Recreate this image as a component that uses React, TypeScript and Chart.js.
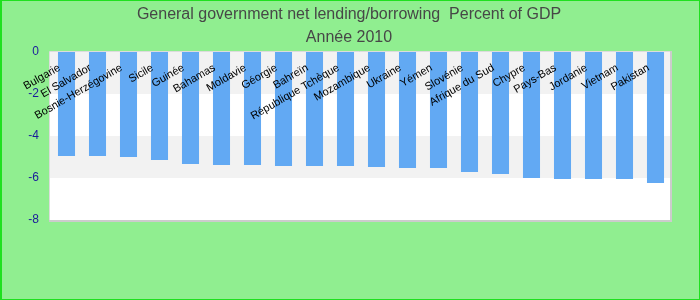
import { useEffect, useRef } from "react";
import { Chart, registerables } from "chart.js";

Chart.register(...registerables);

// General government net lending/borrowing, percent of GDP, 2010
const countries = [
  "Bulgarie",
  "El Salvador",
  "Bosnie-Herzégovine",
  "Sicile",
  "Guinée",
  "Bahamas",
  "Moldavie",
  "Géorgie",
  "Bahreïn",
  "République Tchèque",
  "Mozambique",
  "Ukraine",
  "Yémen",
  "Slovénie",
  "Afrique du Sud",
  "Chypre",
  "Pays-Bas",
  "Jordanie",
  "Vietnam",
  "Pakistan",
];

const netLending = [
  -4.95, -4.95, -5.0, -5.14, -5.33, -5.38, -5.38, -5.43, -5.43, -5.43,
  -5.48, -5.52, -5.52, -5.71, -5.81, -6.0, -6.05, -6.05, -6.05, -6.24,
];

const yTicks = [0, -2, -4, -6, -8];

const titleLines = [
  "General government net lending/borrowing  Percent of GDP",
  "Année 2010",
];

const FONT = "'Liberation Sans', Arial, sans-serif";

const backdropPlugin = {
  id: "backdrop",
  beforeDraw(chart: any) {
    const { ctx, width, height } = chart;
    ctx.save();
    ctx.fillStyle = "#90ee90";
    ctx.fillRect(0, 0, width, height);
    ctx.restore();
  },
  beforeDatasetsDraw(chart: any) {
    const { ctx, chartArea } = chart;
    const y = chart.scales.y;
    const left = chartArea.left - 1;
    const right = chartArea.right - 1;
    ctx.save();
    for (let i = 0; i < yTicks.length - 1; i++) {
      const top = y.getPixelForValue(yTicks[i]);
      const bottom = y.getPixelForValue(yTicks[i + 1]);
      ctx.fillStyle = i % 2 === 0 ? "#f2f2f2" : "#ffffff";
      ctx.fillRect(left, top, right - left, bottom - top);
    }
    const top = y.getPixelForValue(yTicks[0]);
    const bottom = y.getPixelForValue(yTicks[yTicks.length - 1]);
    // light frame on the top and left, heavier on the right and bottom
    ctx.strokeStyle = "#dcdcdc";
    ctx.lineWidth = 1;
    ctx.beginPath();
    ctx.moveTo(left - 0.5, bottom);
    ctx.lineTo(left - 0.5, top - 0.5);
    ctx.lineTo(right, top - 0.5);
    ctx.stroke();
    ctx.strokeStyle = "#cccccc";
    ctx.lineWidth = 2;
    ctx.beginPath();
    ctx.moveTo(right + 1, top - 1);
    ctx.lineTo(right + 1, bottom + 1);
    ctx.lineTo(left - 1, bottom + 1);
    ctx.stroke();
    ctx.restore();
  },
  afterDraw(chart: any) {
    const { ctx, width, height } = chart;
    const x = chart.scales.x;
    ctx.save();
    // titles
    ctx.fillStyle = "#474747";
    ctx.font = `16px ${FONT}`;
    ctx.textAlign = "center";
    ctx.textBaseline = "alphabetic";
    ctx.fillText(titleLines[0], 349, 18.5);
    ctx.fillText(titleLines[1], 349, 41.5);

    // rotated category labels inside the plot
    ctx.fillStyle = "#000000";
    ctx.font = `11px ${FONT}`;
    ctx.textAlign = "right";
    ctx.textBaseline = "middle";
    countries.forEach((name, i) => {
      const px = x.getPixelForValue(i);
      ctx.save();
      ctx.translate(px - 7, 67);
      ctx.rotate((-30 * Math.PI) / 180);
      ctx.fillText(name, 0, 0);
      ctx.restore();
    });

    // outer frame
    ctx.strokeStyle = "#1fe01f";
    ctx.lineWidth = 1;
    ctx.strokeRect(0.5, 0.5, width - 1, height - 1);
    ctx.beginPath();
    ctx.moveTo(1.5, 0);
    ctx.lineTo(1.5, height);
    ctx.stroke();
    ctx.restore();
  },
};

export default function App() {
  const canvasRef = useRef<HTMLCanvasElement | null>(null);

  useEffect(() => {
    document.body.style.margin = "0";
    const canvas = canvasRef.current;
    if (!canvas) return;
    const chart = new Chart(canvas, {
      type: "bar",
      data: {
        labels: countries,
        datasets: [
          {
            data: netLending,
            backgroundColor: "#62a9f3",
            borderWidth: 0,
            barPercentage: 0.55,
            categoryPercentage: 1,
          },
        ],
      },
      options: {
        responsive: false,
        animation: false,
        maintainAspectRatio: false,
        layout: { padding: { top: 52, bottom: 80, right: 29, left: 0 } },
        plugins: {
          legend: { display: false },
          title: { display: false },
          tooltip: { enabled: false },
        },
        scales: {
          x: {
            display: false,
          },
          y: {
            min: -8,
            max: 0,
            afterFit(scale: any) {
              scale.width = 51;
            },
            afterBuildTicks(scale: any) {
              scale.ticks = yTicks.map((v) => ({ value: v }));
            },
            grid: { display: false, drawTicks: false },
            border: { display: false },
            ticks: {
              color: "#1b1b9b",
              padding: 12,
              font: { size: 12, family: FONT },
            },
          },
        },
      },
      plugins: [backdropPlugin],
    });
    return () => chart.destroy();
  }, []);

  return (
    <div style={{ position: "absolute", left: 0, top: 0, width: 700, height: 300 }}>
      <canvas ref={canvasRef} width={700} height={300} />
    </div>
  );
}
